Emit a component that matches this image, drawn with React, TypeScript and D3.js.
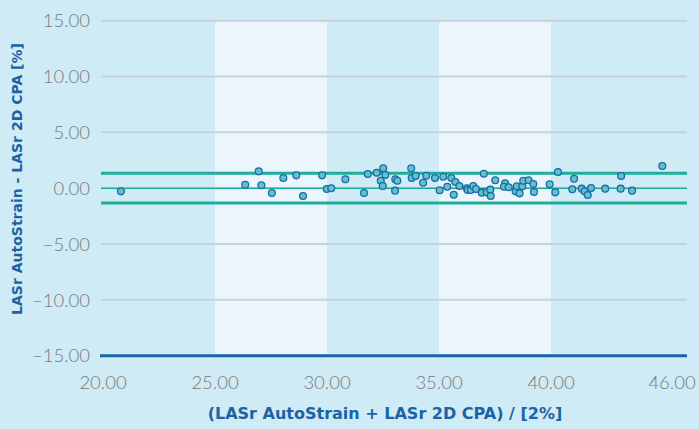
import React from "react";
import * as d3 from "d3";

// mean of the two methods (x) and their difference (y)
const means = [
  20.8, 26.35, 26.95, 27.07, 27.54, 28.05, 28.63, 28.93, 29.78, 29.99, 30.19, 30.82,
  31.65, 31.82, 32.22, 32.51, 32.6, 32.4, 32.49, 33.05, 33.14, 33.04, 33.76, 33.78,
  33.96, 34.29, 34.43, 34.82, 35.03, 35.19, 35.37, 35.55, 35.66, 35.73, 35.91, 36.24,
  36.28, 36.42, 36.53, 36.65, 36.91, 37.0, 37.13, 37.29, 37.31, 37.51, 37.95, 37.9,
  38.11, 38.42, 38.47, 38.6, 38.72, 38.76, 39.0, 39.21, 39.24, 39.94, 40.19, 40.31,
  40.95, 41.03, 41.37, 41.5, 41.64, 41.79, 42.42, 43.11, 43.13, 43.62, 44.97,
];
const diffs = [
  -0.28, 0.31, 1.51, 0.26, -0.43, 0.91, 1.15, -0.7, 1.15, -0.07, 0.0, 0.8,
  -0.43, 1.27, 1.39, 1.78, 1.18, 0.67, 0.2, 0.8, 0.67, -0.22, 1.78, 0.91,
  1.09, 0.49, 1.12, 0.91, -0.19, 1.03, 0.13, 0.91, -0.58, 0.55, 0.2, 0.0,
  -0.16, -0.16, 0.2, -0.07, -0.4, 1.3, -0.37, -0.13, -0.7, 0.71, 0.44, 0.13,
  0.08, -0.28, 0.17, -0.46, 0.17, 0.67, 0.71, 0.38, -0.34, 0.35, -0.37, 1.45,
  -0.1, 0.85, -0.04, -0.28, -0.61, 0.02, -0.04, -0.04, 1.09, -0.22, 1.99,
];

const meanBias = 0.0;
const limitsOfAgreement = [1.33, -1.33];

const xTicks = [20, 25, 30, 35, 40, 46];
const yTicks = [15, 10, 5, 0, -5, -10, -15];
const shadedBands = [
  [25, 30],
  [35, 40],
];

const xTitle = "(LASr AutoStrain + LASr 2D CPA) / [2%]";
const yTitle = "LASr AutoStrain - LASr 2D CPA [%]";

const W = 699;
const H = 429;

export default function App() {
  const x = d3.scaleLinear().domain([20, 46]).range([103, 685.4]);
  const y = d3.scaleLinear().domain([-15, 15]).range([355.7, 20.7]);

  const gridLeft = 101;
  const gridRight = 687;
  const labelFont = "Lato, 'Open Sans', sans-serif";
  const titleFont = "'DejaVu Sans', sans-serif";
  const blue = "#1b63a5";
  const teal = "#1fae9c";

  const points = means.map((m, i) => ({ m, d: diffs[i] }));

  return (
    <svg
      width={W}
      height={H}
      style={{ position: "absolute", left: 0, top: 0, display: "block" }}
    >
      <rect width={W} height={H} fill="#cfebf5" />

      {/* alternate bands */}
      {shadedBands.map(([a, b]) => (
        <rect
          key={a}
          x={x(a)}
          y={y(15) + 1}
          width={x(b) - x(a)}
          height={y(-15) - y(15) - 1}
          fill="#eaf6fc"
        />
      ))}

      {/* grid lines */}
      {yTicks
        .filter((t) => t !== -15)
        .map((t) => (
          <line
            key={t}
            x1={gridLeft}
            x2={gridRight}
            y1={y(t)}
            y2={y(t)}
            stroke="#c6d2d8"
            strokeWidth={2}
          />
        ))}

      {/* bottom axis line */}
      <line
        x1={gridLeft - 1}
        x2={gridRight}
        y1={y(-15)}
        y2={y(-15)}
        stroke={blue}
        strokeWidth={3}
      />

      {/* limits of agreement and bias */}
      {limitsOfAgreement.map((v) => (
        <line
          key={v}
          x1={gridLeft}
          x2={gridRight}
          y1={y(v)}
          y2={y(v)}
          stroke={teal}
          strokeWidth={3}
        />
      ))}
      <line
        x1={gridLeft}
        x2={gridRight}
        y1={y(meanBias)}
        y2={y(meanBias)}
        stroke={teal}
        strokeWidth={1.5}
      />

      {/* points */}
      {points.map((p, i) => (
        <circle
          key={i}
          cx={x(p.m)}
          cy={y(p.d)}
          r={3.4}
          fill="#5ec4c8"
          stroke="#1e68a8"
          strokeWidth={1.3}
        />
      ))}

      {/* y tick labels */}
      {yTicks.map((t) => (
        <text
          key={t}
          x={90}
          y={y(t)}
          dy="0.36em"
          textAnchor="end"
          fontFamily={labelFont}
          fontWeight={300}
          fontSize={18.5}
          fill="#7a7a7a"
        >
          {d3.format(".2f")(t).replace("-", "\u2212")}
        </text>
      ))}

      {/* x tick labels */}
      {xTicks.map((t) => {
        const cx = Math.min(x(t), W - 27);
        return (
          <text
            key={t}
            x={cx}
            y={389}
            textAnchor="middle"
            fontFamily={labelFont}
            fontWeight={300}
            fontSize={18.5}
            fill="#7a7a7a"
          >
            {d3.format(".2f")(t)}
          </text>
        );
      })}

      {/* axis titles */}
      <text
        x={385}
        y={419}
        textAnchor="middle"
        fontFamily={titleFont}
        fontWeight={700}
        fontSize={16}
        fill={blue}
      >
        {xTitle}
      </text>
      <text
        transform={`translate(22, 179) rotate(-90)`}
        textAnchor="middle"
        fontFamily={titleFont}
        fontWeight={700}
        fontSize={14}
        fill={blue}
      >
        {yTitle}
      </text>
    </svg>
  );
}
